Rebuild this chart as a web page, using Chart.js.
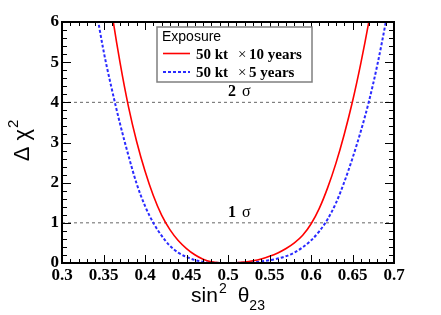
<!DOCTYPE html>
<html>
<head>
<meta charset="utf-8">
<script src="https://cdn.jsdelivr.net/npm/chart.js@4"></script>
<style>
  body { margin: 0; background: #fff; }
  #wrap { width: 441px; height: 315px; }
</style>
</head>
<body>
<div id="wrap"><canvas id="chi2Chart" width="441" height="315"></canvas></div>
<script>
// sin^2(theta23) vs delta chi^2
const redX = [0.35, 0.36, 0.37, 0.38, 0.39, 0.40, 0.41, 0.42, 0.43, 0.44, 0.45, 0.46, 0.47, 0.48, 0.49, 0.50,
              0.51, 0.52, 0.53, 0.54, 0.55, 0.56, 0.57, 0.58, 0.59, 0.60, 0.61, 0.62, 0.63, 0.64, 0.65, 0.66, 0.67, 0.68];
const redY = [7.75, 6.25, 4.98, 3.90, 3.02, 2.29, 1.68, 1.19, 0.83, 0.56, 0.36, 0.205, 0.095, 0.03, 0.005, 0,
              0.008, 0.025, 0.055, 0.10, 0.165, 0.25, 0.36, 0.50, 0.69, 0.97, 1.36, 1.87, 2.48, 3.20, 4.02, 4.97, 6.04, 7.24];

const blueX = [0.33, 0.34, 0.35, 0.36, 0.37, 0.38, 0.39, 0.40, 0.41, 0.42, 0.43, 0.44, 0.45, 0.46, 0.47, 0.48, 0.49, 0.50,
               0.51, 0.52, 0.53, 0.54, 0.55, 0.56, 0.57, 0.58, 0.59, 0.60, 0.61, 0.62, 0.63, 0.64, 0.65, 0.66, 0.67, 0.68, 0.69, 0.70];
const blueY = [7.9, 6.48, 5.29, 4.33, 3.46, 2.68, 1.97, 1.42, 1.00, 0.68, 0.43, 0.26, 0.15, 0.075, 0.03, 0.01, 0.002, 0,
               0.002, 0.008, 0.02, 0.04, 0.07, 0.11, 0.17, 0.26, 0.39, 0.56, 0.79, 1.09, 1.49, 2.01, 2.61, 3.28, 4.04, 4.94, 5.99, 7.19];

const seriesNames = ["50 kt", "50 kt"];
const seriesYears = ["10 years", "5 years"];
const sigmaLevels = [1, 4];
const sigmaNames = ["1", "2"];

const xRange = [0.3, 0.7];
const yRange = [0, 6];

const serif = '"Liberation Serif", "Times New Roman", serif';
const sans = '"Liberation Sans", Arial, sans-serif';

function toPoints(xs, ys) {
  return xs.map((x, i) => ({ x: x, y: ys[i] }));
}

const sigmaSets = sigmaLevels.map(level => ({
  label: "sigma" + level,
  data: [{ x: xRange[0], y: level }, { x: xRange[1], y: level }],
  borderColor: "#666",
  borderWidth: 1,
  borderDash: [3, 3],
  pointRadius: 0
}));

// inner ticks + frame, ROOT style
const frameTicks = {
  id: "frameTicks",
  afterDatasetsDraw(chart) {
    const ctx = chart.ctx;
    const ca = chart.chartArea;
    const xs = chart.scales.x, ys = chart.scales.y;
    ctx.save();
    ctx.strokeStyle = "#000";
    ctx.lineWidth = 1;
    ctx.beginPath();
    for (let i = 0; i <= 40; i++) {
      const px = Math.round(xs.getPixelForValue(xRange[0] + i * 0.01)) + 0.5;
      const len = i % 5 === 0 ? 8 : 4;
      ctx.moveTo(px, ca.bottom); ctx.lineTo(px, ca.bottom - len);
      ctx.moveTo(px, ca.top); ctx.lineTo(px, ca.top + len);
    }
    for (let i = 0; i <= 30; i++) {
      const py = Math.round(ys.getPixelForValue(i * 0.2)) + 0.5;
      const len = i % 5 === 0 ? 9 : 5;
      ctx.moveTo(ca.left, py); ctx.lineTo(ca.left + len, py);
      ctx.moveTo(ca.right, py); ctx.lineTo(ca.right - len, py);
    }
    ctx.stroke();
    ctx.lineWidth = 2;
    ctx.strokeRect(ca.left, ca.top, ca.right - ca.left, ca.bottom - ca.top);
    ctx.restore();
  }
};

const rootText = {
  id: "rootText",
  afterDraw(chart) {
    const ctx = chart.ctx;
    const ca = chart.chartArea;
    const xs = chart.scales.x, ys = chart.scales.y;
    ctx.save();
    ctx.fillStyle = "#000";
    ctx.textBaseline = "alphabetic";

    // sigma labels
    sigmaLevels.forEach((level, i) => {
      const px = xs.getPixelForValue(0.5);
      const py = ys.getPixelForValue(level) - 6;
      ctx.font = "bold 16px " + serif;
      ctx.fillText(sigmaNames[i], px, py);
      ctx.font = "16px " + serif;
      ctx.fillText("σ", px + 14, py);
    });

    // x title: sin^2 theta_23
    const cx = (ca.left + ca.right) / 2;
    ctx.font = "21px " + sans;
    const wSin = ctx.measureText("sin").width;
    const wTh = ctx.measureText("θ").width;
    ctx.font = "14px " + sans;
    const wSup = ctx.measureText("2").width;
    const wSub = ctx.measureText("23").width;
    const gap = 12;
    let x0 = cx - (wSin + wSup + gap + wTh + wSub) / 2;
    const base = 302;
    ctx.font = "21px " + sans;
    ctx.fillText("sin", x0, base);
    ctx.font = "14px " + sans;
    ctx.fillText("2", x0 + wSin + 1, base - 9);
    ctx.font = "21px " + sans;
    ctx.fillText("θ", x0 + wSin + wSup + gap, base);
    ctx.font = "14px " + sans;
    ctx.fillText("23", x0 + wSin + wSup + gap + wTh, base + 8);

    // y title: Delta chi^2
    ctx.save();
    ctx.font = "22px " + sans;
    const wD = ctx.measureText("Δ ").width;
    const wC = ctx.measureText("χ").width;
    ctx.font = "15px " + sans;
    const w2 = ctx.measureText("2").width;
    const total = wD + wC + w2 + 1;
    ctx.translate(29, (ca.top + ca.bottom) / 2 + total / 2 - 2);
    ctx.rotate(-Math.PI / 2);
    ctx.font = "22px " + sans;
    ctx.fillText("Δ ", 0, 0);
    ctx.fillText("χ", wD, 0);
    ctx.font = "15px " + sans;
    ctx.fillText("2", wD + wC + 1, -11);
    ctx.restore();

    // legend box
    const bx = ca.left + 95, by = ca.top + 5, bw = 155, bh = 55;
    ctx.fillStyle = "#fff";
    ctx.fillRect(bx, by, bw, bh);
    ctx.strokeStyle = "#7f7f7f";
    ctx.lineWidth = 1.5;
    ctx.strokeRect(bx, by, bw, bh);
    ctx.fillStyle = "#000";
    ctx.font = "14px " + sans;
    ctx.fillText("Exposure", bx + 5, by + 14);
    const rows = [by + 26.5, by + 45];
    chart.data.datasets.slice(0, 2).forEach((ds, i) => {
      const ly = rows[i];
      ctx.save();
      ctx.strokeStyle = ds.borderColor;
      ctx.lineWidth = ds.borderWidth;
      ctx.setLineDash(ds.borderDash || []);
      ctx.beginPath();
      ctx.moveTo(bx + 6, ly);
      ctx.lineTo(bx + 33, ly);
      ctx.stroke();
      ctx.restore();
      ctx.fillStyle = "#000";
      ctx.font = "bold 15px " + serif;
      ctx.fillText(seriesNames[i], bx + 39, ly + 5);
      ctx.font = "15px " + serif;
      ctx.fillText("×", bx + 81, ly + 5);
      ctx.font = "bold 15px " + serif;
      ctx.fillText(seriesYears[i], bx + 92, ly + 5);
    });
    ctx.restore();
  }
};

new Chart(document.getElementById("chi2Chart"), {
  type: "line",
  data: {
    datasets: [
      {
        label: "50 kt x 10 years",
        data: toPoints(redX, redY),
        borderColor: "#ff0000",
        borderWidth: 1.6,
        pointRadius: 0,
        cubicInterpolationMode: "monotone"
      },
      {
        label: "50 kt x 5 years",
        data: toPoints(blueX, blueY),
        borderColor: "#2a2aff",
        borderWidth: 2,
        borderDash: [3, 2],
        pointRadius: 0,
        cubicInterpolationMode: "monotone"
      },
      ...sigmaSets
    ]
  },
  options: {
    responsive: false,
    animation: false,
    layout: { padding: { top: 22, right: 47, left: 0, bottom: 0 } },
    plugins: { legend: { display: false }, tooltip: { enabled: false } },
    scales: {
      x: {
        type: "linear",
        min: xRange[0],
        max: xRange[1],
        grid: { display: false, drawTicks: false },
        border: { display: false },
        ticks: {
          stepSize: 0.05,
          autoSkip: false,
          maxRotation: 0,
          padding: 2,
          color: "#000",
          font: { family: serif, size: 17, weight: "bold" },
          callback: v => String(+v.toFixed(2))
        },
        afterFit(s) { s.height = 52; }
      },
      y: {
        min: yRange[0],
        max: yRange[1],
        grid: { display: false, drawTicks: false },
        border: { display: false },
        ticks: {
          stepSize: 1,
          padding: 3,
          color: "#000",
          font: { family: serif, size: 17, weight: "bold" }
        },
        afterFit(s) { s.width = 62; }
      }
    }
  },
  plugins: [frameTicks, rootText]
});
</script>
</body>
</html>
